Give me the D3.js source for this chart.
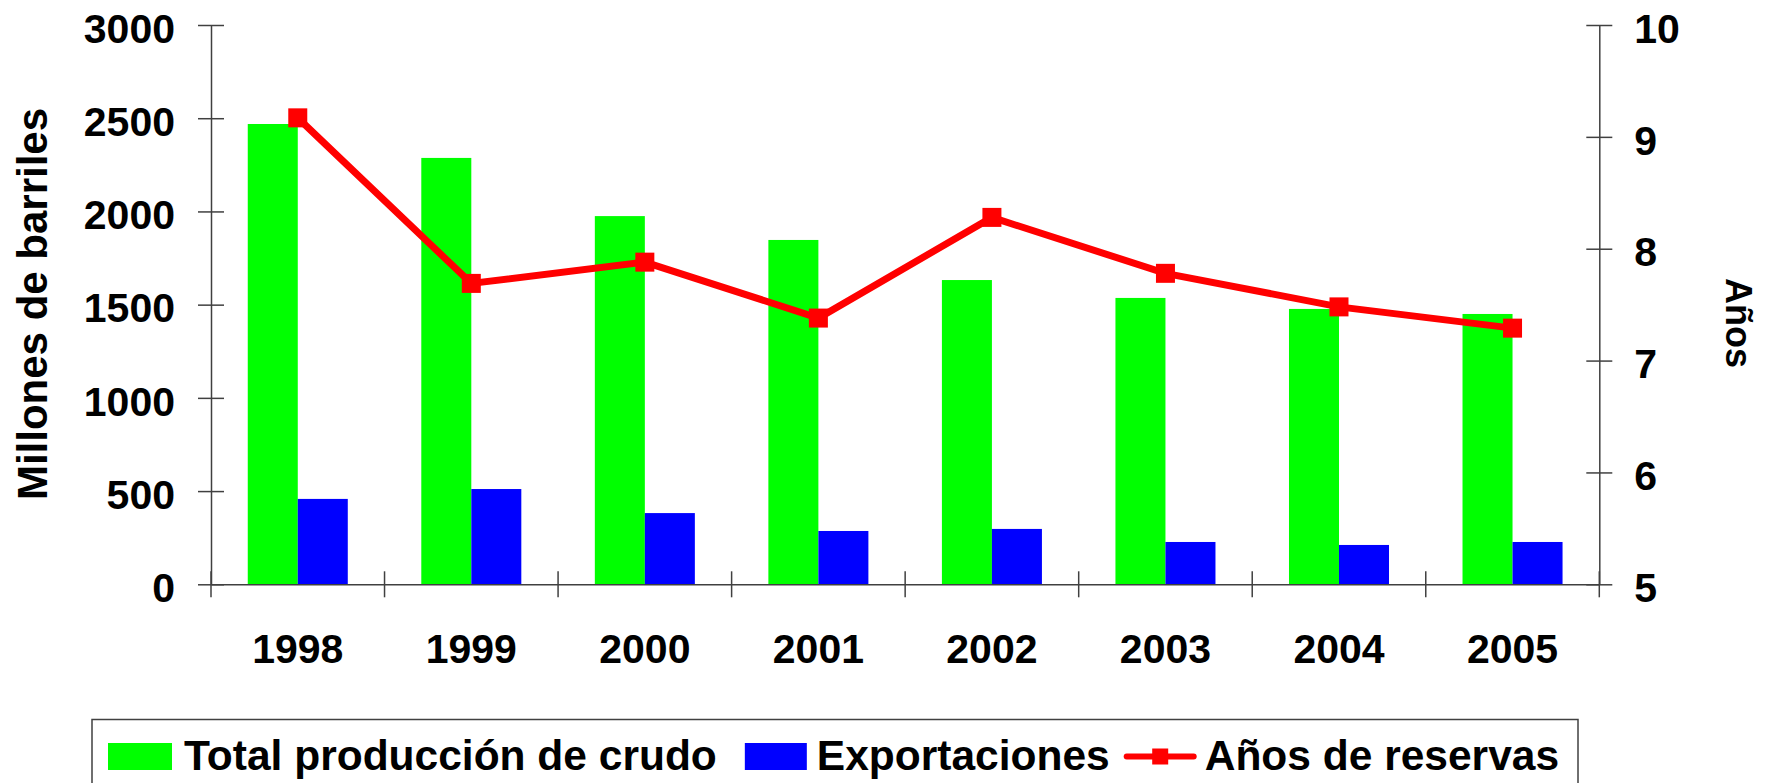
<!DOCTYPE html>
<html>
<head>
<meta charset="utf-8">
<script src="https://cdn.jsdelivr.net/npm/d3@7"></script>
<style>
  body { margin: 0; background: #fff; }
  svg { display: block; font-family: "Liberation Sans", Arial, sans-serif; font-weight: bold; }
</style>
</head>
<body>
<svg id="chart"></svg>
<script>
// data
var years = ["1998","1999","2000","2001","2002","2003","2004","2005"];
var produccion = [2469, 2287, 1975, 1847, 1632, 1536, 1477, 1450];
var exportaciones = [458, 511, 382, 286, 297, 227, 211, 227];
var anosReservas = [9.17, 7.69, 7.88, 7.38, 8.28, 7.78, 7.48, 7.29];
var leftTicks = [0, 500, 1000, 1500, 2000, 2500, 3000];
var rightTicks = [5, 6, 7, 8, 9, 10];
var seriesNames = ["Total producción de crudo", "Exportaciones", "Años de reservas"];

var screen = {width:1768, height:783};
var margins = {left:211, right:168.7, top:25, bottom:198.7};
var graph = {
    width: screen.width - margins.left - margins.right,
    height: screen.height - margins.top - margins.bottom
};
var axisColor = "#404040";

var svg = d3.select("#chart")
    .attr("width", screen.width)
    .attr("height", screen.height);

var target = svg.append("g")
    .attr("transform", "translate(" + margins.left + "," + margins.top + ")");

var x0 = d3.scaleBand().domain(years).range([0, graph.width]);
var x1 = d3.scaleBand().domain(["prod","exp"]).range([0, x0.bandwidth()]).paddingOuter(0.735);
var xIdx = d3.scaleLinear().domain([0, years.length]).range([0, graph.width]);
var yL = d3.scaleLinear().domain([0, 3000]).range([graph.height, 0]);
var yR = d3.scaleLinear().domain([5, 10]).range([graph.height, 0]);

// bars
var rows = years.map(function(y, i) {
    return {year:y, prod:produccion[i], exp:exportaciones[i], res:anosReservas[i]};
});

target.append("g").selectAll("rect")
    .data(rows)
    .enter()
    .append("rect")
    .attr("x", function(d){ return x0(d.year) + x1("prod"); })
    .attr("y", function(d){ return yL(d.prod); })
    .attr("width", x1.bandwidth())
    .attr("height", function(d){ return graph.height - yL(d.prod); })
    .attr("fill", "#00ff00");

target.append("g").selectAll("rect")
    .data(rows)
    .enter()
    .append("rect")
    .attr("x", function(d){ return x0(d.year) + x1("exp"); })
    .attr("y", function(d){ return yL(d.exp); })
    .attr("width", x1.bandwidth())
    .attr("height", function(d){ return graph.height - yL(d.exp); })
    .attr("fill", "#0000ff");

// axes
var fmt = d3.format("d");
var leftAxis = target.append("g")
    .call(d3.axisLeft(yL).tickValues(leftTicks).tickFormat(fmt).tickSize(13).tickSizeOuter(0).tickPadding(23));
var rightAxis = target.append("g")
    .attr("transform", "translate(" + graph.width + ",0)")
    .call(d3.axisRight(yR).tickValues(rightTicks).tickFormat(fmt).tickSize(13).tickSizeOuter(0).tickPadding(22));
var bottomAxis = target.append("g")
    .attr("transform", "translate(0," + graph.height + ")")
    .call(d3.axisBottom(x0).tickSize(0).tickSizeOuter(0).tickPadding(50));

leftAxis.selectAll(".tick line").attr("x1", 13);
rightAxis.selectAll(".tick line").attr("x1", -13);
bottomAxis.selectAll(".tick line").remove();
bottomAxis.selectAll(".boundary")
    .data(d3.range(years.length + 1))
    .enter()
    .append("line")
    .attr("class", "boundary")
    .attr("x1", function(i){ return xIdx(i); })
    .attr("x2", function(i){ return xIdx(i); })
    .attr("y1", -13)
    .attr("y2", 13);

[leftAxis, rightAxis, bottomAxis].forEach(function(a) {
    a.attr("font-family", null).attr("font-size", null);
    a.selectAll("path, line").attr("stroke", axisColor).attr("stroke-width", 1.5);
    a.selectAll("text").attr("fill", "#000").style("font-size", "41px");
});
leftAxis.selectAll("text").attr("dy", "0.42em");
rightAxis.selectAll("text").attr("dy", "0.42em");

// line on the right scale
var line = d3.line()
    .x(function(d){ return x0(d.year) + x0.bandwidth() / 2; })
    .y(function(d){ return yR(d.res); });

target.append("path")
    .datum(rows)
    .attr("d", line)
    .attr("fill", "none")
    .attr("stroke", "#ff0000")
    .attr("stroke-width", 7)
    .attr("stroke-linejoin", "miter");

target.append("g").selectAll("rect")
    .data(rows)
    .enter()
    .append("rect")
    .attr("x", function(d){ return x0(d.year) + x0.bandwidth() / 2 - 9.5; })
    .attr("y", function(d){ return yR(d.res) - 9.5; })
    .attr("width", 19)
    .attr("height", 19)
    .attr("fill", "#ff0000");

// axis titles
svg.append("text")
    .attr("transform", "translate(47,304) rotate(-90)")
    .attr("text-anchor", "middle")
    .style("font-size", "42px")
    .text("Millones de barriles");

svg.append("text")
    .attr("transform", "translate(1726,323) rotate(90)")
    .attr("text-anchor", "middle")
    .style("font-size", "36px")
    .text("Años");

// legend
var legend = svg.append("g");
legend.append("rect")
    .attr("x", 92)
    .attr("y", 719.5)
    .attr("width", 1486)
    .attr("height", 80)
    .attr("fill", "#fff")
    .attr("stroke", axisColor)
    .attr("stroke-width", 1.5);

var cursor = 108;
var baseY = 770;
var gaps = [12, 28, 10, 17, 11];
var legendFont = "42.5px";

legend.append("rect").attr("x", cursor).attr("y", 743).attr("width", 64).attr("height", 27).attr("fill", "#00ff00");
cursor += 64 + gaps[0];
var t1 = legend.append("text").attr("x", cursor).attr("y", baseY).style("font-size", legendFont).text(seriesNames[0]);
cursor += t1.node().getComputedTextLength() + gaps[1];

legend.append("rect").attr("x", cursor).attr("y", 743).attr("width", 62).attr("height", 27).attr("fill", "#0000ff");
cursor += 62 + gaps[2];
var t2 = legend.append("text").attr("x", cursor).attr("y", baseY).style("font-size", legendFont).text(seriesNames[1]);
cursor += t2.node().getComputedTextLength() + gaps[3];

legend.append("line").attr("x1", cursor).attr("x2", cursor + 67).attr("y1", 756.5).attr("y2", 756.5)
    .attr("stroke", "#ff0000").attr("stroke-width", 6).attr("stroke-linecap", "round");
legend.append("rect").attr("x", cursor + 33.5 - 8).attr("y", 756.5 - 8).attr("width", 16).attr("height", 16).attr("fill", "#ff0000");
cursor += 67 + gaps[4];
legend.append("text").attr("x", cursor).attr("y", baseY).style("font-size", legendFont).text(seriesNames[2]);
</script>
</body>
</html>
